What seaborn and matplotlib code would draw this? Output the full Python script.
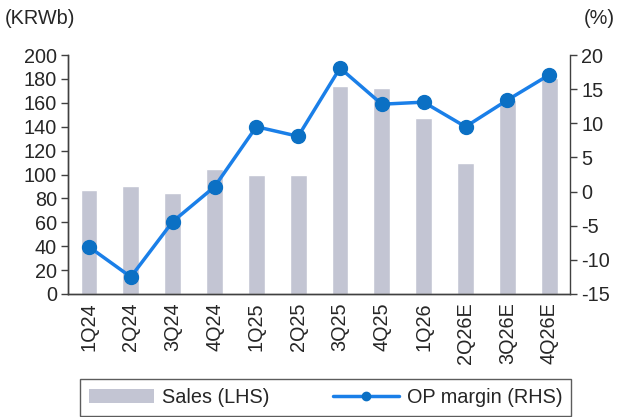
import numpy as np
import pandas as pd
import matplotlib
matplotlib.use("Agg")
import matplotlib.pyplot as plt
import seaborn as sns
from matplotlib.lines import Line2D
from matplotlib.patches import Patch

quarters = ["1Q24", "2Q24", "3Q24", "4Q24", "1Q25", "2Q25", "3Q25", "4Q25",
            "1Q26", "2Q26E", "3Q26E", "4Q26E"]
sales = [87, 90, 84.5, 104.5, 99.5, 99.5, 174, 172, 147, 109.5, 162, 181]
op_margin = [-8.1, -12.5, -4.4, 0.7, 9.5, 8.1, 18.1, 12.8, 13.1, 9.5, 13.4, 17.1]

bar_col = "#c3c5d3"
line_col = "#1a7fe8"
dot_col = "#0b70c4"
fs = 14.3

sns.set_style("white")
plt.rcParams["font.family"] = ["Liberation Sans", "DejaVu Sans"]
plt.rcParams["font.size"] = fs
plt.rcParams["axes.unicode_minus"] = False

df = pd.DataFrame({"quarter": quarters, "sales": sales, "margin": op_margin})

fig, ax = plt.subplots(figsize=(6.19, 4.17), dpi=100)
fig.subplots_adjust(left=0.11, right=0.921, top=0.868, bottom=0.295)

sns.barplot(data=df, x="quarter", y="sales", color=bar_col, width=0.4,
            saturation=1, ax=ax)
ax.set_ylim(0, 200)
ax.set_yticks(range(0, 201, 20))
ax.set_xlim(-0.5, len(quarters) - 0.5)
ax.set_xlabel("")
ax.set_ylabel("")

ax2 = ax.twinx()
ax2.plot(np.arange(len(quarters)), df["margin"], color=line_col, lw=2.5,
         marker="o", ms=10, mfc=dot_col, mec=dot_col, zorder=3)
ax2.set_ylim(-15, 20)
ax2.set_yticks(range(-15, 21, 5))

ax.set_xticks(np.arange(len(quarters)))
ax.set_xticklabels(quarters, rotation=90)
ax.set_xticks(np.arange(-0.5, len(quarters), 1), minor=True)
ax.tick_params(axis="x", which="major", length=0, pad=6, labelsize=fs)
ax.tick_params(axis="x", which="minor", length=5, width=1, color="#404040")
ax.tick_params(axis="y", length=5, width=1, color="#404040", labelsize=fs, pad=3)
ax2.tick_params(axis="y", length=5, width=1, color="#404040", labelsize=fs, pad=3)

for a in (ax, ax2):
    a.spines["top"].set_visible(False)
    for s in ("left", "right", "bottom"):
        a.spines[s].set_color("#404040")
        a.spines[s].set_linewidth(1)
ax.spines["right"].set_visible(False)

fig.text(0.008, 0.955, "(KRWb)", fontsize=fs, ha="left", va="center")
fig.text(0.943, 0.955, "(%)", fontsize=fs, ha="left", va="center")

handles = [Patch(facecolor=bar_col, edgecolor="none"),
           Line2D([0], [0], color=line_col, lw=2.5, marker="o", ms=6,
                  mfc=dot_col, mec=dot_col)]
leg = fig.legend(handles, ["Sales (LHS)", "OP margin (RHS)"], ncol=2,
                 loc="upper center", bbox_to_anchor=(0.526, 0.092),
                 frameon=True, fancybox=False, fontsize=fs,
                 handlelength=3.3, handletextpad=0.4, columnspacing=3.2,
                 borderpad=0.45, borderaxespad=0)
leg.get_frame().set_edgecolor("#333333")
leg.get_frame().set_linewidth(1)

fig.savefig("out.png", dpi=100)
